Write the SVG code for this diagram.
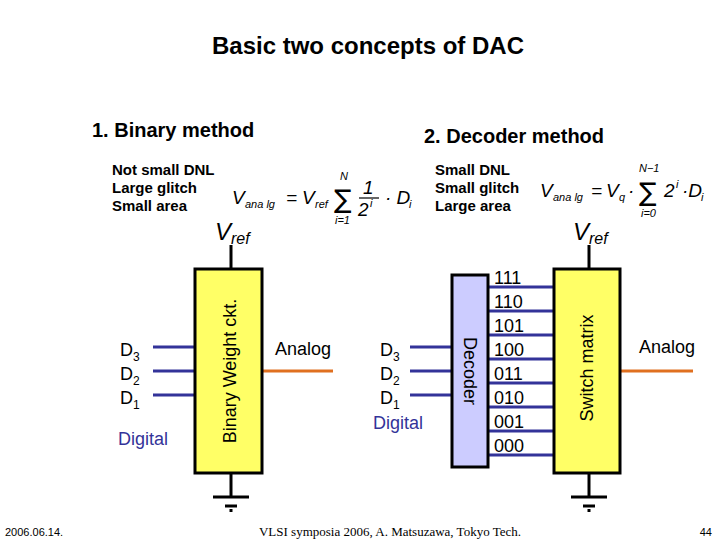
<svg xmlns="http://www.w3.org/2000/svg" width="720" height="540" viewBox="0 0 720 540">
<style>
text{font-family:"Liberation Sans",Arial,sans-serif;fill:#000}
.h{font-weight:bold}
.m{font-style:italic;font-size:19px}
.ms{font-style:italic;font-size:11px}
.sig{font-size:26px;font-family:"DejaVu Sans",sans-serif}
.lbl{font-size:18px}
.dig{fill:#333399;font-size:18px}
.blue{stroke:#333399;stroke-width:3}
.or{stroke:#e07020;stroke-width:3}
.blk{stroke:#000;stroke-width:3;fill:none}
.box{stroke:#000;stroke-width:3}
</style>
<rect width="720" height="540" fill="#fff"/>
<text x="368" y="54" text-anchor="middle" class="h" font-size="24">Basic two concepts of DAC</text>
<text x="92" y="137" class="h" font-size="20">1. Binary method</text>
<text x="424" y="143" class="h" font-size="20">2. Decoder method</text>
<g font-size="15">
<text x="112" y="175" class="h">Not small DNL</text>
<text x="112" y="193" class="h">Large glitch</text>
<text x="112" y="211" class="h">Small area</text>
<text x="435" y="175" class="h">Small DNL</text>
<text x="435" y="193" class="h">Small glitch</text>
<text x="435" y="211" class="h">Large area</text>
</g>
<g id="formula1">
<text x="232" y="204" class="m">V</text><text x="245" y="208" class="ms">ana lg</text>
<text x="286" y="204" class="m">=</text>
<text x="302" y="204" class="m">V</text><text x="315" y="208" class="ms">ref</text>
<text x="334" y="208" class="sig">∑</text>
<text x="340" y="180" class="ms">N</text><text x="335" y="224" class="ms">i=1</text>
<text x="363" y="194" class="m">1</text><line x1="359" y1="198" x2="379" y2="198" stroke="#000" stroke-width="1.2"/>
<text x="358" y="216" class="m">2</text><text x="370" y="207" class="ms">i</text>
<text x="385" y="204" class="m">· D</text><text x="409" y="208" class="ms">i</text>
</g>
<g id="formula2">
<text x="540" y="197" class="m">V</text><text x="553" y="201" class="ms">ana lg</text>
<text x="591" y="197" class="m">=</text>
<text x="606" y="197" class="m">V</text><text x="619" y="201" class="ms">q</text>
<text x="628" y="197" class="m">·</text>
<text x="639" y="201" class="sig">∑</text>
<text x="639" y="172" class="ms">N−1</text><text x="641" y="217" class="ms">i=0</text>
<text x="664" y="197" class="m">2</text><text x="676" y="188" class="ms">i</text>
<text x="682" y="197" class="m">·D</text><text x="701" y="201" class="ms">i</text>
</g>
<text x="215" y="240" font-size="24" font-style="italic">V<tspan font-size="16" dy="4">ref</tspan></text>
<text x="573" y="240" font-size="24" font-style="italic">V<tspan font-size="16" dy="4">ref</tspan></text>
<g id="connectors">
<line x1="231" y1="245" x2="231" y2="269" class="blk"/>
<line x1="231" y1="473" x2="231" y2="497" class="blk"/>
<line x1="213" y1="497" x2="249" y2="497" class="blk"/>
<line x1="225" y1="506" x2="237" y2="506" class="blk"/>
<line x1="231" y1="509" x2="231" y2="512" class="blk"/>
<line x1="589" y1="245" x2="589" y2="269" class="blk"/>
<line x1="589" y1="473" x2="589" y2="497" class="blk"/>
<line x1="571" y1="497" x2="607" y2="497" class="blk"/>
<line x1="583" y1="506" x2="595" y2="506" class="blk"/>
<line x1="589" y1="509" x2="589" y2="512" class="blk"/>
<line x1="153" y1="347" x2="195" y2="347" class="blue"/>
<line x1="153" y1="371" x2="195" y2="371" class="blue"/>
<line x1="153" y1="395" x2="195" y2="395" class="blue"/>
<line x1="262" y1="371" x2="333" y2="371" class="or"/>
<line x1="410" y1="347" x2="452" y2="347" class="blue"/>
<line x1="410" y1="371" x2="452" y2="371" class="blue"/>
<line x1="410" y1="395" x2="452" y2="395" class="blue"/>
<g class="blue">
<line x1="488" y1="287" x2="554" y2="287"/><line x1="488" y1="311" x2="554" y2="311"/>
<line x1="488" y1="335" x2="554" y2="335"/><line x1="488" y1="359" x2="554" y2="359"/>
<line x1="488" y1="383" x2="554" y2="383"/><line x1="488" y1="407" x2="554" y2="407"/>
<line x1="488" y1="431" x2="554" y2="431"/><line x1="488" y1="455" x2="554" y2="455"/>
</g>
<line x1="620" y1="371" x2="693" y2="371" class="or"/>
</g>
<g id="binary">
<rect x="195" y="269" width="67" height="204" fill="#ffff66" class="box"/>
<text transform="translate(236,371) rotate(-90)" text-anchor="middle" class="lbl">Binary Weight ckt.</text>
</g>
<g id="decoder">
<rect x="452" y="275" width="36" height="192" fill="#ccccff" class="box"/>
<text transform="translate(464,371) rotate(90)" text-anchor="middle" class="lbl">Decoder</text>
</g>
<g id="switch">
<rect x="554" y="269" width="66" height="204" fill="#ffff66" class="box"/>
<text transform="translate(593,368) rotate(-90)" text-anchor="middle" class="lbl">Switch matrix</text>
</g>
<g id="left-labels" class="lbl">
<text x="120" y="356">D<tspan font-size="12" dy="5">3</tspan></text>
<text x="120" y="380">D<tspan font-size="12" dy="5">2</tspan></text>
<text x="120" y="404">D<tspan font-size="12" dy="5">1</tspan></text>
<text x="118" y="445" class="dig">Digital</text>
<text x="275" y="355">Analog</text>
<text x="380" y="356">D<tspan font-size="12" dy="5">3</tspan></text>
<text x="380" y="380">D<tspan font-size="12" dy="5">2</tspan></text>
<text x="380" y="404">D<tspan font-size="12" dy="5">1</tspan></text>
<text x="373" y="429" class="dig">Digital</text>
<text x="639" y="353">Analog</text>
</g>
<g id="codes" class="lbl">
<text x="494" y="284">111</text><text x="494" y="308">110</text><text x="494" y="332">101</text><text x="494" y="356">100</text>
<text x="494" y="380">011</text><text x="494" y="404">010</text><text x="494" y="428">001</text><text x="494" y="452">000</text>
</g>
<text x="5" y="536" font-size="11">2006.06.14.</text>
<text x="390" y="536" text-anchor="middle" font-size="13" style="font-family:'Liberation Serif',serif">VLSI symposia 2006,  A. Matsuzawa, Tokyo Tech.</text>
<text x="712" y="536" text-anchor="end" font-size="11">44</text>
</svg>
